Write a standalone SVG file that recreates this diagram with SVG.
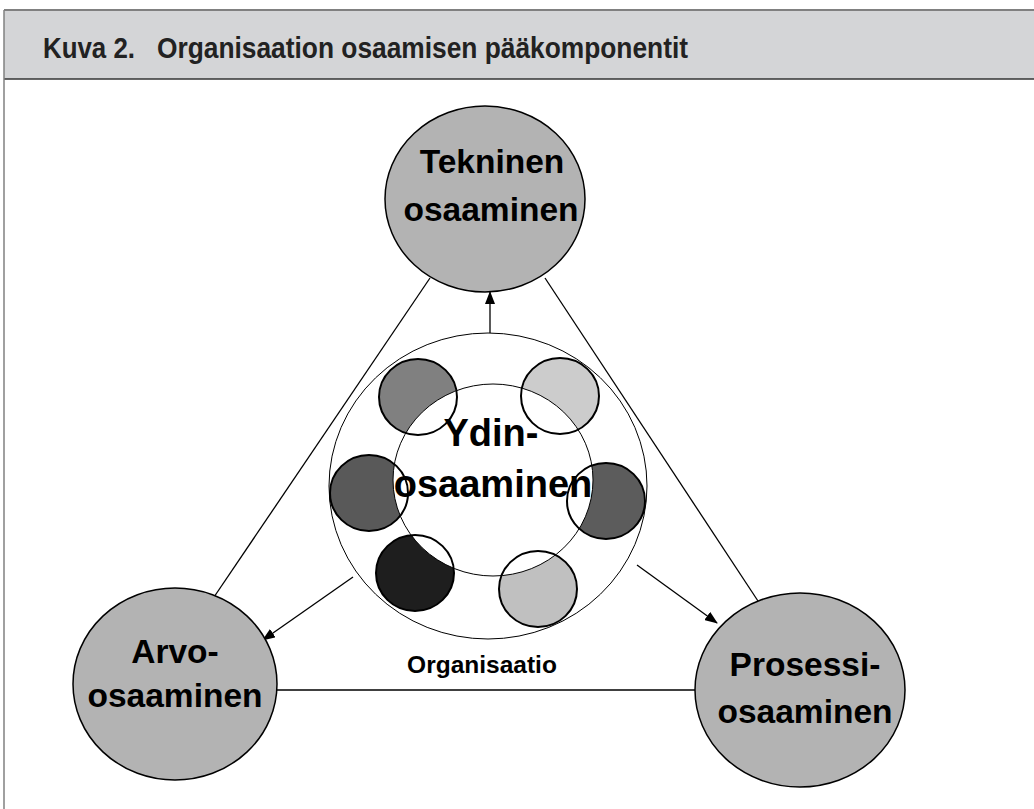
<svg xmlns="http://www.w3.org/2000/svg" width="1034" height="809" viewBox="0 0 1034 809">
<defs>
<style>
.t{font-family:"Liberation Sans",Arial,sans-serif;font-weight:bold;fill:#000;text-anchor:middle}
.big{font-size:33.5px}
.ttl{font-family:"Liberation Sans",Arial,sans-serif;font-weight:bold;font-size:29px;fill:#222}
.main{fill:#b3b3b3;stroke:#000;stroke-width:1.5}
.thin{fill:#fff;stroke:#000;stroke-width:1}
.sc{stroke:none}
.so{fill:none;stroke:#000;stroke-width:2}
.ln{stroke:#000;stroke-width:1.3;fill:none}
</style>
<marker id="ah" viewBox="0 0 13 10" refX="12" refY="5" markerWidth="13" markerHeight="10" markerUnits="userSpaceOnUse" orient="auto">
<path d="M0,0 L13,5 L0,10 Z" fill="#000"/>
</marker>
</defs>
<rect x="0" y="0" width="1034" height="809" fill="#fff"/>
<g id="frame">
<rect x="4" y="10" width="1040" height="69" fill="#d4d5d7"/>
<line x1="4" y1="10" x2="1034" y2="10" stroke="#808080" stroke-width="2"/>
<line x1="4" y1="79" x2="1034" y2="79" stroke="#333" stroke-width="1.5"/>
<line x1="4" y1="10" x2="4" y2="809" stroke="#808080" stroke-width="1.5"/>
<text class="ttl" x="43" y="58" textLength="92" lengthAdjust="spacingAndGlyphs">Kuva 2.</text>
<text class="ttl" x="157" y="58" textLength="531" lengthAdjust="spacingAndGlyphs">Organisaation osaamisen pääkomponentit</text>
</g>
<g id="connectors">
<line class="ln" x1="430" y1="278" x2="212" y2="600"/>
<line class="ln" x1="545" y1="278" x2="758" y2="601"/>
<line class="ln" x1="277" y1="690" x2="695" y2="690"/>
<line class="ln" x1="490" y1="333" x2="490" y2="292" marker-end="url(#ah)"/>
<line class="ln" x1="353" y1="577" x2="263" y2="640" marker-end="url(#ah)"/>
<line class="ln" x1="637" y1="565" x2="717" y2="623" marker-end="url(#ah)"/>
</g>
<g id="organisaatio">
<ellipse class="thin" cx="488" cy="486" rx="159" ry="153"/>
<g id="small-fills">
<ellipse class="sc" cx="418" cy="397" rx="39" ry="38" fill="#808080"/>
<ellipse class="sc" cx="560" cy="396" rx="39" ry="38" fill="#cccccc"/>
<ellipse class="sc" cx="369" cy="493" rx="39" ry="38" fill="#595959"/>
<ellipse class="sc" cx="606" cy="501" rx="39" ry="38" fill="#5c5c5c"/>
<ellipse class="sc" cx="415" cy="573" rx="39" ry="38" fill="#1e1e1e"/>
<ellipse class="sc" cx="538" cy="589" rx="39" ry="38" fill="#c0c0c0"/>
</g>
<ellipse class="thin" cx="493" cy="480" rx="100" ry="96"/>
<g id="small-outlines">
<ellipse class="so" cx="418" cy="397" rx="39" ry="38"/>
<ellipse class="so" cx="560" cy="396" rx="39" ry="38"/>
<ellipse class="so" cx="369" cy="493" rx="39" ry="38"/>
<ellipse class="so" cx="606" cy="501" rx="39" ry="38"/>
<ellipse class="so" cx="415" cy="573" rx="39" ry="38"/>
<ellipse class="so" cx="538" cy="589" rx="39" ry="38"/>
</g>
<text class="t" x="482" y="673" style="font-size:24.5px">Organisaatio</text>
</g>
<g id="ydin">
<text class="t" x="491" y="446" style="font-size:38px">Ydin-</text>
<text class="t" x="493" y="497" style="font-size:38px">osaaminen</text>
</g>
<g id="tekninen">
<ellipse class="main" cx="485" cy="199" rx="100" ry="93"/>
<text class="t big" x="492" y="173">Tekninen</text>
<text class="t big" x="491" y="221">osaaminen</text>
</g>
<g id="arvo">
<ellipse class="main" cx="175" cy="684" rx="102" ry="96"/>
<text class="t big" x="175" y="663">Arvo-</text>
<text class="t big" x="175" y="707">osaaminen</text>
</g>
<g id="prosessi">
<ellipse class="main" cx="800" cy="690" rx="105" ry="97"/>
<text class="t big" x="805" y="676">Prosessi-</text>
<text class="t big" x="805" y="723">osaaminen</text>
</g>
</svg>
